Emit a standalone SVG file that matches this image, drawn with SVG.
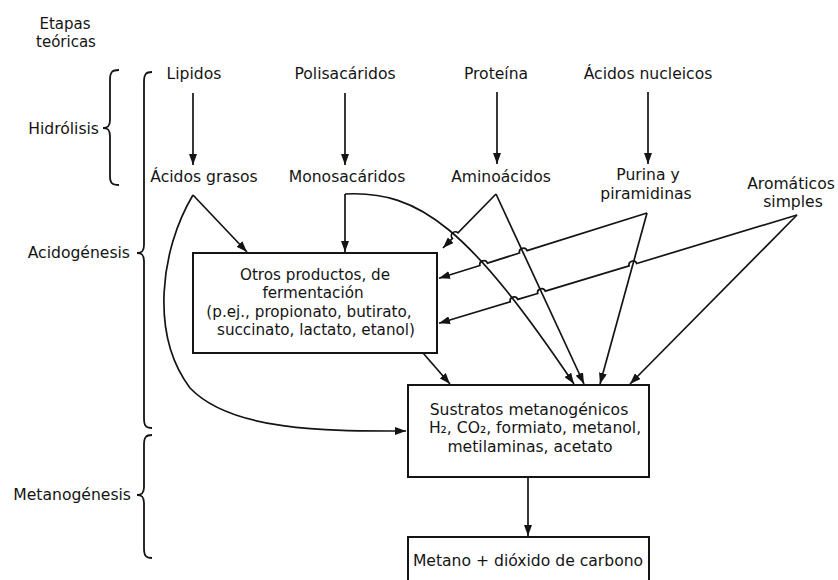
<svg xmlns="http://www.w3.org/2000/svg" width="838" height="580" viewBox="0 0 838 580">
<style>
  text { font-family: "DejaVu Sans", "Liberation Sans", sans-serif; font-size: 15.6px; fill: #141414; }
  .c { text-anchor: middle; }
  .e { text-anchor: end; }
  .bx { font-size: 15.2px; }
  .box { fill: #fff; stroke: #141414; stroke-width: 2; }
  .ln { fill: none; stroke: #141414; stroke-width: 1.7; }
  .br { fill: none; stroke: #141414; stroke-width: 1.8; }
</style>
<defs>
  <marker id="ah" markerUnits="userSpaceOnUse" markerWidth="12" markerHeight="8" refX="11" refY="4" orient="auto">
    <path d="M0,0 L11,4 L0,8 z" fill="#141414"/>
  </marker>
</defs>
<rect width="838" height="580" fill="#fff"/>

<g id="stages">
  <text x="65" y="29" class="c" style="font-size:15px">Etapas</text>
  <text x="66" y="47" class="c" style="font-size:15px">teóricas</text>
  <text x="99" y="134" class="e">Hidrólisis</text>
  <path class="br" d="M119,70 C112,70 110,72 110,80 L110,120 C110,126 108,128 103,128 C108,128 110,130 110,136 L110,176 C110,183 112,185 119,185"/>
  <text x="130" y="258" class="e">Acidogénesis</text>
  <path class="br" d="M152,72 C146,72 144,74 144,82 L144,245 C144,251 142,253 137,253 C142,253 144,255 144,261 L144,418 C144,426 146,428 152,428"/>
  <text x="131" y="500" class="e">Metanogénesis</text>
  <path class="br" d="M152,435 C146,435 144,437 144,445 L144,487 C144,493 142,495 137,495 C142,495 144,497 144,503 L144,548 C144,556 146,558 152,558"/>
</g>

<g id="lipidos"><text x="194" y="79" class="c">Lipidos</text></g>
<g id="polisacaridos"><text x="345" y="79" class="c">Polisacáridos</text></g>
<g id="proteina"><text x="496" y="79" class="c">Proteína</text></g>
<g id="acidos-nucleicos"><text x="648" y="79" class="c">Ácidos nucleicos</text></g>

<g id="acidos-grasos"><text x="204" y="182" class="c">Ácidos grasos</text></g>
<g id="monosacaridos"><text x="347" y="182" class="c">Monosacáridos</text></g>
<g id="aminoacidos"><text x="501" y="182" class="c">Aminoácidos</text></g>
<g id="purina"><text x="648" y="180" class="c">Purina y</text><text x="646" y="199" class="c">piramidinas</text></g>
<g id="aromaticos"><text x="791" y="189" class="c">Aromáticos</text><text x="793" y="207" class="c">simples</text></g>

<g id="otros-productos">
  <rect class="box" x="193" y="253" width="244" height="100"/>
  <text x="315" y="280" class="c bx">Otros productos, de</text>
  <text x="313" y="298" class="c bx">fermentación</text>
  <text x="309" y="317" class="c bx">(p.ej., propionato, butirato,</text>
  <text x="316" y="335" class="c bx">succinato, lactato, etanol)</text>
</g>

<g id="sustratos">
  <rect class="box" x="408" y="385" width="241" height="92"/>
  <text x="529" y="415" class="c">Sustratos metanogénicos</text>
  <text x="535" y="433" class="c">H₂, CO₂, formiato, metanol,</text>
  <text x="530" y="452" class="c">metilaminas, acetato</text>
</g>

<g id="metano">
  <rect class="box" x="408" y="537" width="241" height="70"/>
  <text x="528" y="566" class="c">Metano + dióxido de carbono</text>
</g>

<g id="connectors">
  <path class="ln" marker-end="url(#ah)" d="M193,93 L193,165"/>
  <path class="ln" marker-end="url(#ah)" d="M345,93 L345,165"/>
  <path class="ln" marker-end="url(#ah)" d="M497,92 L497,164"/>
  <path class="ln" marker-end="url(#ah)" d="M648,92 L648,164"/>

  <path class="ln" marker-end="url(#ah)" d="M193,195 L247,252"/>
  <path class="ln" marker-end="url(#ah)" d="M193,195 C160,250 150,335 190,388 C232,432 330,431 406,431"/>

  <path class="ln" marker-end="url(#ah)" d="M345,194 L345,252"/>
  <path class="ln" marker-end="url(#ah)" d="M345,194 C420,190 470,230 574,384"/>

  <path class="ln" marker-end="url(#ah)" d="M496,194 L458,232.75 A4,4 0 0 0 452.4,238.45 L443,248"/>
  <path class="ln" marker-end="url(#ah)" d="M496,194 L584,384"/>

  <path class="ln" marker-end="url(#ah)" d="M647,213 L527.1,250.6 A4,4 0 0 0 519.5,253 L487.5,263.1 A4,4 0 0 0 479.9,265.5 L439,278.3"/>
  <path class="ln" marker-end="url(#ah)" d="M647,213 L600,384"/>

  <path class="ln" marker-end="url(#ah)" d="M797,215 L636.7,263.5 A4,4 0 0 0 629.1,265.9 L545.3,291.1 A4,4 0 0 0 537.7,293.5 L517.8,299.4 A4,4 0 0 0 510.2,301.8 L439,323.3"/>
  <path class="ln" marker-end="url(#ah)" d="M797,215 L630,384"/>

  <path class="ln" marker-end="url(#ah)" d="M423,353 L450,384"/>
  <path class="ln" marker-end="url(#ah)" d="M528,477 L528,536"/>
</g>
</svg>
